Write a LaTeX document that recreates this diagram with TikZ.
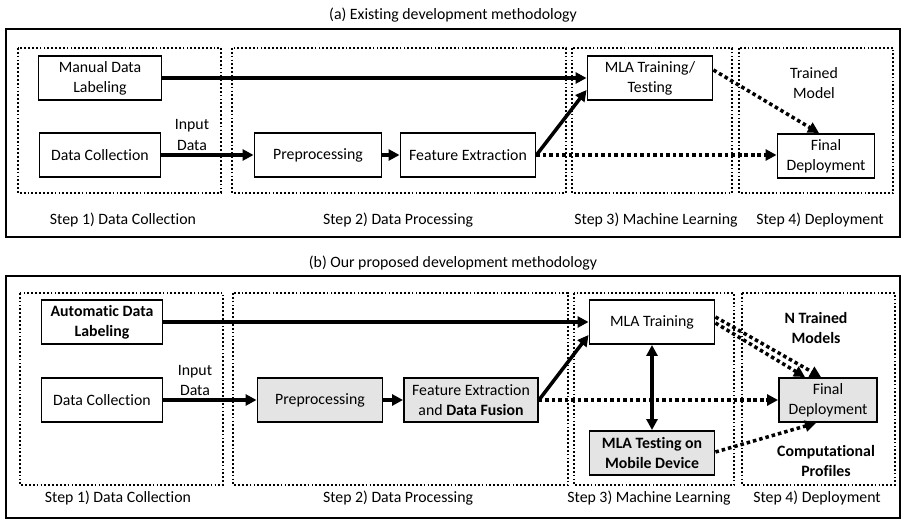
\documentclass[tikz,border=0pt]{standalone}
\usepackage{fontspec}
\setmainfont{Carlito}[Ligatures=NoCommon]
\usetikzlibrary{arrows.meta,positioning}
\definecolor{BoxGray}{HTML}{E4E4E4}
\tikzset{
  panel/.style={draw=black,line width=1.1pt},
  stage/.style={draw=black,line width=1pt,dash pattern=on 1pt off 1.2pt},
  blk/.style={draw=black,line width=1.1pt,fill=white,align=center,minimum height=.88cm,inner sep=1pt},
  shaded/.style={blk,fill=BoxGray},
  feed/.style={-{Triangle[length=2.2mm,width=2.2mm]},line width=2pt},
  dotfeed/.style={feed,dash pattern=on 2pt off 1.7pt},
  note/.style={align=center,inner sep=0pt},
  steplabel/.style={inner sep=0pt}
}

\begin{document}
\begin{tikzpicture}[x=.02cm,y=-.02cm,font=\fontsize{9}{11.4}\selectfont]
  \useasboundingbox (0,0) rectangle (902,520);

  % (a) existing methodology
  \node[note] (atitle) at (453,15) {(a) Existing development methodology};
  \draw[panel] (6,29) rectangle (900,237);
  \foreach \l/\r in {18/221,232/566,572/732,739/893}{
    \draw[stage] (\l,48) rectangle (\r,193);
  }
  \foreach \x/\txt in {123/Step 1) Data Collection,398/Step 2) Data Processing,656/Step 3) Machine Learning,820/Step 4) Deployment}{
    \node[steplabel] at (\x,220) {\txt};
  }
  \node[blk,minimum width=2.46cm] (alabel) at (100,78) {Manual Data\\Labeling};
  \node[blk,minimum width=2.42cm] (acollect) at (100,155) {Data Collection};
  \node[blk,minimum width=2.54cm] (aprep) at (318,155) {Preprocessing};
  \node[blk,minimum width=2.7cm] (afeat) at (468,155) {Feature Extraction};
  \node[blk,minimum width=2.5cm] (atrain) at (650,78) {MLA Training/\\Testing};
  \node[blk,minimum width=1.94cm] (afinal) at (826,156) {Final\\Deployment};
  \node[note] (ainput) at (192,135) {Input\\Data};
  \node[note] (amodel) at (814,83) {Trained\\Model};

  \draw[feed] (alabel) -- (atrain);
  \draw[feed] (acollect) -- (aprep);
  \draw[feed] (aprep) -- (afeat);
  \draw[feed] (afeat.east) -- ([yshift=-.24cm]atrain.west);
  \draw[dotfeed] (afeat) -- (afinal.west |- afeat);
  \draw[dotfeed] ([yshift=.16cm]atrain.east) -- ([xshift=-.14cm]afinal.north);

  % (b) proposed methodology
  \node[note] (btitle) at (453,263) {(b) Our proposed development methodology};
  \draw[panel] (6,276) rectangle (900,518);
  \foreach \l/\r in {20/223,233/568,574/734,742/895}{
    \draw[stage] (\l,293) rectangle (\r,485);
  }
  \foreach \x/\txt in {118/Step 1) Data Collection,398/Step 2) Data Processing,649/Step 3) Machine Learning,817/Step 4) Deployment}{
    \node[steplabel] at (\x,498) {\txt};
  }
  \node[blk,minimum width=2.42cm,font=\fontsize{9}{11.4}\selectfont\bfseries] (blabel) at (102,322) {Automatic Data\\Labeling};
  \node[blk,minimum width=2.42cm] (bcollect) at (102,400) {Data Collection};
  \node[shaded,minimum width=2.5cm] (bprep) at (320,400) {Preprocessing};
  \node[shaded,minimum width=2.68cm] (bfeat) at (471,400) {Feature Extraction\\and \textbf{Data Fusion}};
  \node[blk,minimum width=2.5cm] (btrain) at (652,322) {MLA Training};
  \node[shaded,minimum width=2.5cm,font=\fontsize{9}{11.4}\selectfont\bfseries] (btest) at (652,453) {MLA Testing on\\Mobile Device};
  \node[shaded,minimum width=1.96cm] (bfinal) at (828,400) {Final\\Deployment};
  \node[note] (binput) at (195,380) {Input\\Data};
  \node[note,font=\fontsize{9}{11.4}\selectfont\bfseries] (bmodels) at (816,328) {N Trained\\Models};
  \node[note,font=\fontsize{9}{11.4}\selectfont\bfseries] (bprofiles) at (826,461) {Computational\\Profiles};

  \draw[feed] (blabel) -- (btrain);
  \draw[feed] (bcollect) -- (bprep);
  \draw[feed] (bprep) -- (bfeat);
  \draw[feed] (bfeat.east) -- ([yshift=-.26cm]btrain.west);
  \draw[{Triangle[length=2.2mm,width=2.2mm]}-{Triangle[length=2.2mm,width=2.2mm]},line width=2pt] (btrain) -- (btest);
  \draw[dotfeed] (bfeat) -- (bfinal.west |- bfeat);
  \draw[dotfeed] ([yshift=.1cm]btrain.east) -- ([xshift=-.14cm]bfinal.north);
  \draw[dotfeed] ([yshift=-.02cm]btrain.east) -- ([xshift=-.46cm]bfinal.north);
  \draw[dotfeed] ([yshift=.02cm]btest.east) -- ([xshift=-.24cm]bfinal.south);
\end{tikzpicture}
\end{document}
